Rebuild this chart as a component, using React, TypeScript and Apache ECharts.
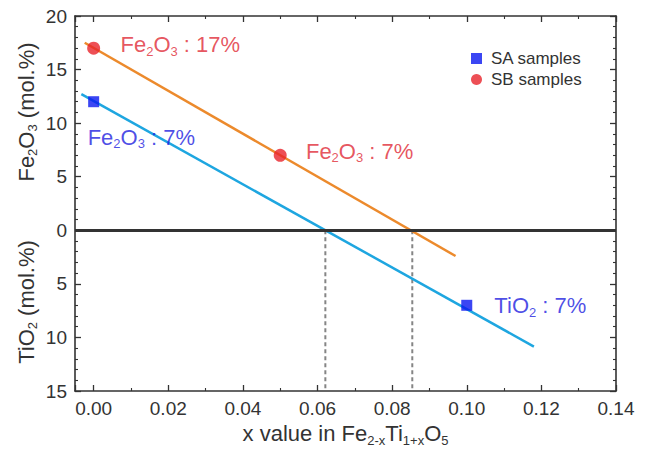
import React, { useEffect, useRef } from 'react';
import * as echarts from 'echarts';

// Sample points
const saPoints: number[][] = [[0, 12], [0.1, -7]];
const sbPoints: number[][] = [[0, 17], [0.05, 7]];
// Fitted lines (end points)
const fitA: number[][] = [[-0.0033, 12.7], [0.118, -10.85]];
const fitB: number[][] = [[-0.0024, 17.5], [0.097, -2.4]];
// Dashed drop lines at the zero crossings
const dropA: number[][] = [[0.0621, 0], [0.0621, -15]];
const dropB: number[][] = [[0.0854, 0], [0.0854, -15]];
// Annotations
const noteX = [0.0072, -0.0016, 0.0569, 0.1074];
const noteY = [17.3, 8.7, 7.4, -7.05];
const noteText = [
  '{a|Fe}{s|2}{a|O}{s|3}{a| : 17%}',
  '{a|Fe}{s|2}{a|O}{s|3}{a| : 7%}',
  '{a|Fe}{s|2}{a|O}{s|3}{a| : 7%}',
  '{a|TiO}{s|2}{a| : 7%}',
];
const noteColor = ['#e02a36', '#1e1ee0', '#e02a36', '#1e1ee0'];

const FONT = '"Liberation Sans", Arial, sans-serif';
const AX = '#333';

export default function App() {
  const ref = useRef<HTMLDivElement>(null);
  useEffect(() => {
    if (!ref.current) return;
    const chart = echarts.init(ref.current, null, { renderer: 'svg' });
    const richFor = (color: string) => ({
      a: { fontSize: 22, color, fontFamily: FONT, lineHeight: 26 },
      s: { fontSize: 13, color, fontFamily: FONT, verticalAlign: 'bottom', lineHeight: 18 },
    });
    const titleRich = {
      n: { fontSize: 22, color: AX, fill: AX, fontFamily: FONT, lineHeight: 26 },
      s: { fontSize: 13, color: AX, fill: AX, fontFamily: FONT, verticalAlign: 'bottom', lineHeight: 18 },
    };
    const axisCommon = {
      axisLine: { show: true, onZero: false, lineStyle: { color: AX, width: 1.6 } },
      axisTick: { show: true, inside: true, length: 6, lineStyle: { color: AX, width: 1.3 } },
      minorTick: { show: true, length: 3, lineStyle: { color: AX, width: 1.1 } },
      splitLine: { show: false },
    };
    const option: any = {
      animation: false,
      textStyle: { fontFamily: FONT },
      grid: { left: 75, right: 34, top: 16, bottom: 61 },
      legend: {
        data: [
          { name: 'SA samples', icon: 'rect' },
          { name: 'SB samples', icon: 'circle' },
        ],
        orient: 'vertical',
        left: 466,
        top: 45,
        itemWidth: 11,
        itemHeight: 11,
        itemGap: 4,
        textStyle: { fontSize: 17, color: AX, fontFamily: FONT, padding: [0, 0, 0, 4] },
      },
      xAxis: [
        {
          type: 'value', min: -0.005, max: 0.14, splitNumber: 7,
          ...axisCommon,
          minorTick: { ...axisCommon.minorTick, splitNumber: 2 },
          axisLabel: {
            fontSize: 19, color: AX, margin: 8, showMinLabel: false,
            formatter: (v: number) => (v < -0.001 ? '' : v.toFixed(2)),
          },
          name: '{n|x value in Fe}{s|2-x}{n|Ti}{s|1+x}{n|O}{s|5}',
          nameLocation: 'middle',
          nameGap: 22,
          nameTextStyle: { rich: titleRich },
        },
        {
          type: 'value', position: 'top', min: -0.005, max: 0.14, splitNumber: 7,
          ...axisCommon,
          minorTick: { ...axisCommon.minorTick, splitNumber: 2 },
          axisLabel: { show: false },
        },
      ],
      yAxis: [
        {
          type: 'value', min: -15, max: 20, interval: 5,
          ...axisCommon,
          minorTick: { ...axisCommon.minorTick, splitNumber: 5 },
          axisLabel: { fontSize: 19, color: AX, margin: 8, formatter: (v: number) => String(Math.abs(v)) },
        },
        {
          type: 'value', position: 'right', min: -15, max: 20, interval: 5,
          ...axisCommon,
          minorTick: { ...axisCommon.minorTick, splitNumber: 5 },
          axisLabel: { show: false },
        },
      ],
      graphic: [
        {
          type: 'text', x: 26, y: 112, rotation: Math.PI / 2,
          style: {
            text: '{n|Fe}{s|2}{n|O}{s|3}{n| (mol.%)}',
            align: 'center', verticalAlign: 'middle',
            rich: titleRich,
          },
        },
        {
          type: 'text', x: 26, y: 302, rotation: Math.PI / 2,
          style: {
            text: '{n|TiO}{s|2}{n| (mol.%)}',
            align: 'center', verticalAlign: 'middle',
            rich: titleRich,
          },
        },
      ],
      series: [
        {
          name: 'fitA', type: 'line', data: fitA, symbol: 'none',
          lineStyle: { color: '#1ea6e0', width: 2.5 }, z: 2,
        },
        {
          name: 'fitB', type: 'line', data: fitB, symbol: 'none',
          lineStyle: { color: '#ec8a2c', width: 2.5 }, z: 2,
        },
        {
          name: 'dropA', type: 'line', data: dropA, symbol: 'none',
          lineStyle: { color: '#858585', width: 2, type: [4, 3] }, z: 1,
        },
        {
          name: 'dropB', type: 'line', data: dropB, symbol: 'none',
          lineStyle: { color: '#858585', width: 2, type: [4, 3] }, z: 1,
          markLine: {
            silent: true, symbol: 'none', label: { show: false },
            lineStyle: { color: '#333', width: 3, type: 'solid' },
            data: [{ yAxis: 0 }],
          },
        },
        {
          name: 'SA samples', type: 'scatter', data: saPoints, symbol: 'rect', symbolSize: 11,
          itemStyle: { color: '#0a18f0' }, z: 5,
        },
        {
          name: 'SB samples', type: 'scatter', data: sbPoints, symbol: 'circle', symbolSize: 13,
          itemStyle: { color: '#e8232b' }, z: 5,
        },
        {
          name: 'notes', type: 'scatter', symbolSize: 0, silent: true, z: 6,
          data: noteX.map((x, i) => ({
            value: [x, noteY[i]],
            label: {
              show: true, position: 'right', distance: 0,
              formatter: noteText[i], rich: richFor(noteColor[i]),
            },
          })),
        },
      ],
    };
    chart.setOption(option);
    return () => chart.dispose();
  }, []);
  return <div ref={ref} style={{ position: 'absolute', left: 0, top: 0, width: 650, height: 452 }} />;
}
